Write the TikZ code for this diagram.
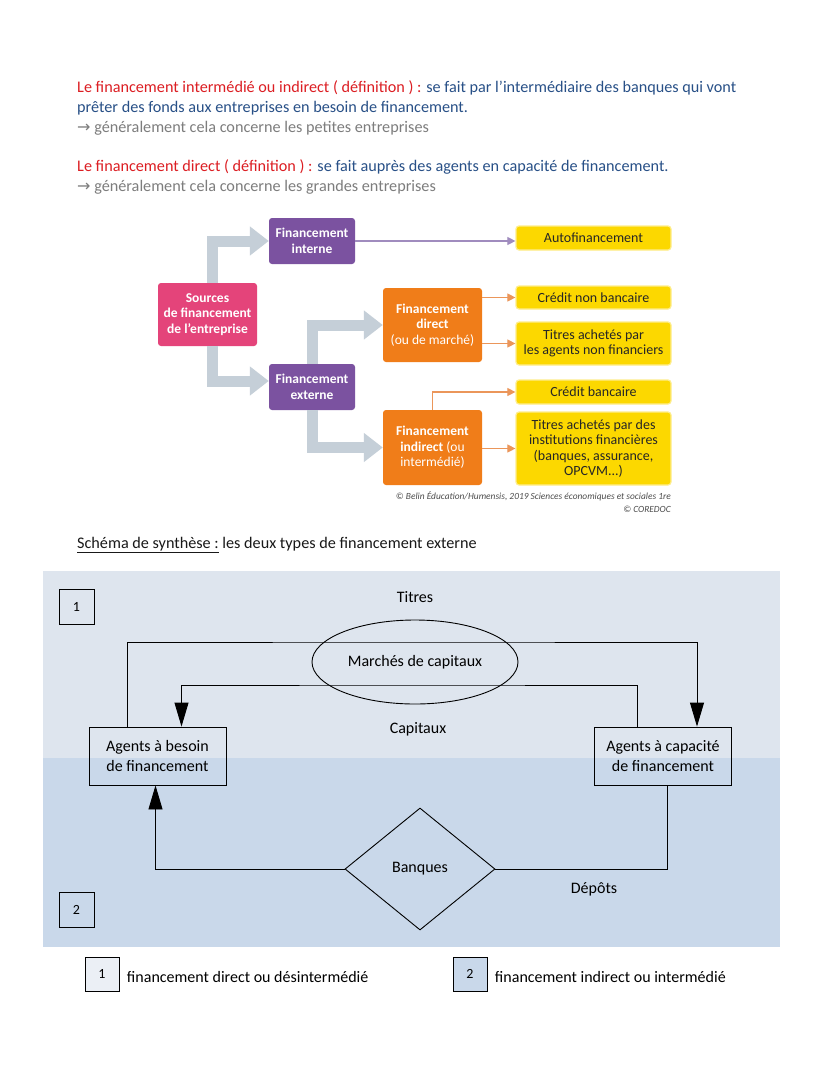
\documentclass[tikz,border=0pt]{standalone}
\usepackage{fontspec}
\setmainfont{Carlito}
\newfontfamily\symbfont{DejaVu Sans}
\usetikzlibrary{shapes.geometric, arrows.meta, positioning}

\definecolor{rougedef}{RGB}{220,30,35}
\definecolor{bleudef}{RGB}{40,80,135}
\definecolor{grisdef}{RGB}{125,125,125}
\definecolor{roseb}{RGB}{228,68,122}
\definecolor{violetb}{RGB}{123,82,160}
\definecolor{orangeb}{RGB}{240,125,25}
\definecolor{jauneb}{RGB}{252,216,0}
\definecolor{grisfl}{RGB}{197,207,216}
\definecolor{violetfl}{RGB}{160,140,190}
\definecolor{orangefl}{RGB}{235,150,90}
\definecolor{bandeA}{RGB}{222,229,238}
\definecolor{bandeB}{RGB}{201,216,234}

\begin{document}
\begin{tikzpicture}[x=1pt, y=-1pt, node distance=4pt,
    ligne/.style={anchor=base west, inner sep=0pt, font=\fontsize{16.2}{18}\selectfont},
    carre/.style={rectangle, rounded corners=3pt, align=center, font=\fontsize{13.5}{15.5}\selectfont\bfseries, text=white, inner sep=2pt},
    jaune/.style={rectangle, rounded corners=3pt, fill=jauneb, draw=jauneb!45!white, line width=1.2pt, align=center, font=\fontsize{14}{15.5}\selectfont, text=black!85, minimum width=155pt, inner sep=1pt},
    grosse/.style={grisfl, line width=11pt, line join=miter, -{Triangle[width=28pt,length=19pt]}},
    fine/.style={line width=1.1pt, -{Triangle[width=8pt,length=8pt]}},
    agent/.style={rectangle, draw, line width=0.9pt, align=center, minimum width=137pt, minimum height=58pt, font=\fontsize{16}{20}\selectfont},
    numero/.style={rectangle, draw, line width=0.9pt, minimum size=35pt, font=\fontsize{14}{16}\selectfont},
    fleche/.style={line width=0.9pt, -{Triangle[width=14pt,length=24pt]}},
    texte/.style={font=\fontsize{16}{19}\selectfont}]

\fill[white] (0,0) rectangle (828,1071);
\useasboundingbox (0,0) rectangle (828,1071);

% definitions
\node[ligne] (def1) at (77,92) {\color{rougedef}Le financement intermédié ou indirect ( définition ) : \color{bleudef}se fait par l'intermédiaire des banques qui vont};
\node[ligne, text=bleudef] (def1b) at (77,112) {prêter des fonds aux entreprises en besoin de financement.};
\node[ligne, text=grisdef] (def1c) at (77,132) {{\symbfont\fontsize{16}{16}\selectfont →} généralement cela concerne les petites entreprises};
\node[ligne] (def2) at (77,171) {\color{rougedef}Le financement direct ( définition ) : \color{bleudef}se fait auprès des agents en capacité de financement.};
\node[ligne, text=grisdef] (def2b) at (77,191) {{\symbfont\fontsize{16}{16}\selectfont →} généralement cela concerne les grandes entreprises};

% sources de financement
\node[carre, fill=roseb, minimum width=99pt, minimum height=63pt] (sources) at (207.5,314.5) {Sources\\de financement\\de l'entreprise};
\node[carre, fill=violetb, minimum width=86pt, minimum height=46pt] (interne) at (312,241) {Financement\\interne};
\node[carre, fill=violetb, minimum width=86pt, minimum height=46pt] (externe) at (312,387) {Financement\\externe};
\node[carre, fill=orangeb, minimum width=99pt, minimum height=74pt] (direct) at (432.5,325) {Financement\\direct\\\mdseries(ou de marché)};
\node[carre, fill=orangeb, minimum width=99pt, minimum height=75pt] (indirect) at (432.5,447.5) {Financement\\indirect {\mdseries(ou}\\\mdseries intermédié)};

\node[jaune, minimum height=24pt] (auto) at (593.5,238) {Autofinancement};
\node[jaune, minimum height=23pt] (creditnb) at (593.5,297.5) {Crédit non bancaire};
\node[jaune, minimum height=43pt] (titresanf) at (593.5,343.5) {Titres achetés par\\les agents non financiers};
\node[jaune, minimum height=24pt] (creditb) at (593.5,392) {Crédit bancaire};
\node[jaune, minimum height=73pt] (titresif) at (593.5,448.5) {Titres achetés par des\\institutions financières\\(banques, assurance,\\OPCVM...)};

\draw[grosse] ([xshift=5]sources.north) |- (interne.west);
\draw[grosse] ([xshift=5]sources.south) |- ([yshift=6]externe.west);
\draw[grosse] (externe.north) |- (direct.west);
\draw[grosse] (externe.south) |- (indirect.west);

\draw[fine, violetfl] (interne.east) -- (interne.east -| auto.west);
\draw[fine, orangefl] (direct.east |- creditnb) -- (creditnb.west);
\draw[fine, orangefl] (direct.east |- titresanf) -- (titresanf.west);
\draw[fine, orangefl] (indirect.north) |- (creditb.west);
\draw[fine, orangefl] (indirect.east |- titresif) -- (titresif.west);

\node[anchor=base east, inner sep=0pt, text=black!70, font=\fontsize{9.4}{11}\selectfont\itshape] (copy1) at (671,499) {© Belin Éducation/Humensis, 2019 Sciences économiques et sociales 1re};
\node[anchor=base east, inner sep=0pt, text=black!70, font=\fontsize{9.4}{11}\selectfont\itshape] (copy2) at (671,512) {© COREDOC};

% schema de synthese
\node[ligne, text=black!90] (titre) at (77,548) {\underline{Schéma de synthèse :} les deux types de financement externe};

\fill[bandeA] (43,571) rectangle (780,758);
\fill[bandeB] (43,758) rectangle (780,947);

\node[numero] (zone1) at (76.5,606.5) {1};
\node[numero] (zone2) at (76.5,910) {2};

\node[texte] (titres) at (415,597) {Titres};
\node[ellipse, draw, line width=0.9pt, minimum width=206pt, minimum height=84pt, texte] (marches) at (415,662) {Marchés de capitaux};
\node[texte] (capitaux) at (418,729) {Capitaux};
\node[agent] (besoin) at (157.5,756) {Agents à besoin\\de financement};
\node[agent] (capacite) at (663,756) {Agents à capacité\\de financement};
\node[diamond, draw, line width=0.9pt, minimum width=150pt, minimum height=122pt, inner sep=0pt, texte] (banques) at (420,869) {Banques};
\node[texte] (depots) at (594,889) {Dépôts};

\coordinate (hautT) at (415,642);
\coordinate (hautC) at (415,685);
\draw[fleche] ([xshift=-30]besoin.north) |- (hautT) -| ([xshift=34]capacite.north);
\draw[fleche] ([xshift=-26]capacite.north) |- (hautC) -| ([xshift=24]besoin.north);
\draw[line width=0.9pt] ([xshift=4]capacite.south) |- (banques.east);
\draw[fleche] (banques.west) -| ([xshift=-2]besoin.south);

% legende
\node[numero, minimum size=34pt, fill=bandeA!60!white] (leg1) at (102,974) {1};
\node[right=of leg1, texte, yshift=-3pt] (legtxt1) {financement direct ou désintermédié};
\node[numero, minimum size=34pt, fill=bandeB] (leg2) at (470,974) {2};
\node[right=of leg2, texte, yshift=-3pt] (legtxt2) {financement indirect ou intermédié};
\end{tikzpicture}
\end{document}
